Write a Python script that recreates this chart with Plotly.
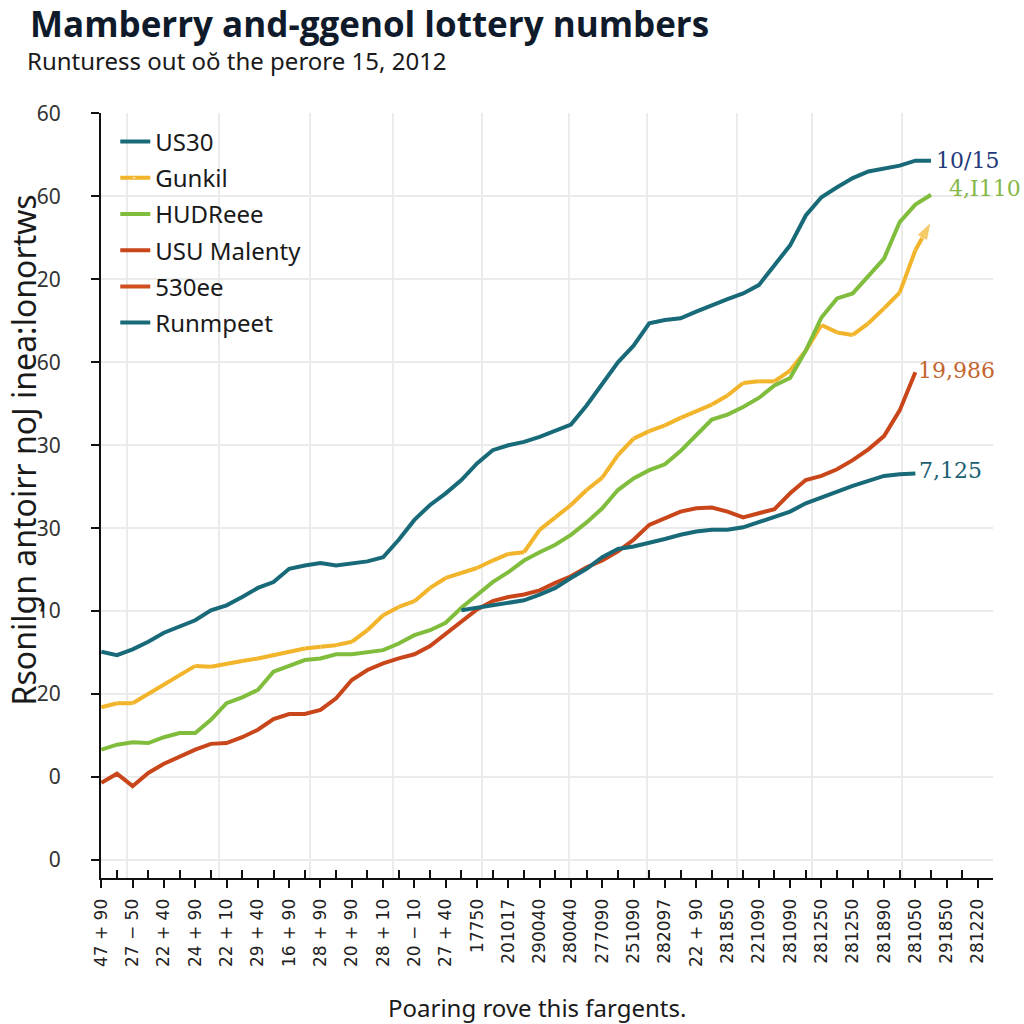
import plotly.graph_objects as go

# ---------------- data ----------------
x_tick_labels = ["47 + 90", "27 − 50", "22 + 40", "24 + 90", "22 + 10", "29 + 40", "16 + 90",
                 "28 + 90", "20 + 90", "28 + 10", "20 − 10", "27 + 40", "17750", "201017",
                 "290040", "280040", "277090", "251090", "282097", "22 + 90", "281850",
                 "221090", "281090", "281250", "281250", "281890", "281050", "291850", "281220"]
y_tick_labels = ["0", "0", "20", "10", "30", "30", "60", "20", "60", "60"]
y_tick_values = [0, 10, 20, 30, 40, 50, 60, 70, 80, 90]

step = 0.5  # period spacing of the series samples (in tick units)

us30 = [25.1, 24.7, 25.4, 26.3, 27.4, 28.1, 28.9, 30.1, 30.7, 31.7,
        32.8, 33.5, 35.1, 35.5, 35.8, 35.5, 35.8, 36.0, 36.5, 38.6,
        41.0, 42.8, 44.2, 45.8, 47.8, 49.4, 50.0, 50.4, 51.0, 51.8,
        52.5, 54.8, 57.5, 60.0, 62.0, 64.7, 65.1, 65.3, 66.1, 66.9,
        67.6, 68.3, 69.3, 71.7, 74.1, 77.7, 79.9, 81.1, 82.2, 83.0,
        83.3, 83.7, 84.3, 84.3]
gunkil = [18.4, 18.9, 18.9, 20.0, 21.1, 22.3, 23.4, 23.3, 23.7, 24.0,
          24.3, 24.7, 25.2, 25.5, 25.7, 25.9, 26.3, 27.7, 29.5, 30.5,
          31.2, 32.8, 34.0, 34.6, 35.2, 36.1, 36.9, 37.1, 39.8, 41.3,
          42.8, 44.6, 46.1, 48.8, 50.8, 51.7, 52.4, 53.3, 54.1, 54.9,
          56.0, 57.5, 57.7, 57.7, 59.0, 61.4, 64.5, 63.6, 63.3, 64.7,
          66.5, 68.4, 73.5, 76.9]
hudreee = [13.3, 13.9, 14.2, 14.1, 14.8, 15.3, 15.3, 16.9, 18.9, 19.6,
           20.5, 22.7, 23.4, 24.1, 24.3, 24.8, 24.8, 25.1, 25.3, 26.1,
           27.1, 27.7, 28.6, 30.4, 31.9, 33.5, 34.7, 36.1, 37.1, 38.0,
           39.2, 40.7, 42.4, 44.6, 46.0, 47.0, 47.7, 49.3, 51.2, 53.1,
           53.7, 54.6, 55.7, 57.2, 58.1, 61.4, 65.4, 67.7, 68.3, 70.4,
           72.5, 76.9, 79.0, 80.2]
usu_malenty = [9.3, 10.4, 8.9, 10.5, 11.6, 12.5, 13.3, 14.0, 14.1, 14.8,
               15.7, 17.0, 17.6, 17.6, 18.1, 19.5, 21.7, 22.9, 23.7, 24.3,
               24.8, 25.8, 27.3, 28.8, 30.2, 31.2, 31.7, 32.0, 32.5, 33.4,
               34.2, 35.3, 36.1, 37.2, 38.6, 40.4, 41.2, 42.0, 42.4, 42.5,
               42.0, 41.3, 41.8, 42.3, 44.2, 45.8, 46.3, 47.1, 48.2, 49.5,
               51.1, 54.2, 58.8]
runmpeet_first_period = 23
runmpeet = [30.1, 30.4, 30.6, 31.0, 31.3, 32.0, 32.8, 34.0, 35.1, 36.5,
            37.5, 37.8, 38.2, 38.7, 39.2, 39.6, 39.8, 39.8, 40.1, 40.7,
            41.4, 42.0, 43.0, 43.7, 44.5, 45.1, 45.7, 46.3, 46.5, 46.6]

end_labels = {"US30": "10/15", "HUDReee": "4,I110", "USU Malenty": "19,986", "Runmpeet": "7,125"}

# ---------------- style ----------------
TEAL = "#186a79"
YELLOW = "#f2b42a"
GREEN = "#80bd3d"
RED = "#c9461b"
RED2 = "#cf4f1f"

def xs(n, first=0):
    return [(first + i) * step for i in range(n)]

fig = go.Figure()

series = [
    ("US30", us30, 0, TEAL),
    ("Gunkil", gunkil, 0, YELLOW),
    ("HUDReee", hudreee, 0, GREEN),
    ("USU Malenty", usu_malenty, 0, RED),
    ("530ee", [], 0, RED2),
    ("Runmpeet", runmpeet, runmpeet_first_period, TEAL),
]

for name, vals, first, color in series:
    if vals:
        xv, yv = xs(len(vals), first), vals
    else:
        xv, yv = [None], [None]
    kw = {}
    mode = "lines"
    if name == "Gunkil":
        mode = "lines+markers"
        kw["marker"] = dict(symbol="arrow", angleref="previous",
                            size=[0] * (len(vals) - 1) + [19], color=color)
    fig.add_trace(go.Scatter(x=xv, y=yv, name=name, mode=mode,
                             line=dict(color=color, width=4),
                             legendgroup=name, **kw))

# hidden trace to carry the vertical-grid axis
fig.add_trace(go.Scatter(x=[None], y=[None], xaxis="x2", showlegend=False, hoverinfo="skip"))

label_style = {
    "US30": dict(color="#24397a", xshift=3, yshift=0),
    "HUDReee": dict(color="#86b84a", xshift=16, yshift=6),
    "USU Malenty": dict(color="#c4652e", xshift=1, yshift=2),
    "Runmpeet": dict(color="#1c5f73", xshift=2, yshift=3),
}
annotations = []
for name, vals, first, color in series:
    if name in end_labels:
        st = label_style[name]
        annotations.append(dict(
            x=xs(len(vals), first)[-1], y=vals[-1], xref="x", yref="y",
            text=end_labels[name], showarrow=False, xanchor="left", yanchor="middle",
            xshift=st["xshift"], yshift=st["yshift"],
            font=dict(family="DejaVu Serif", size=22, color=st["color"])))

# titles
annotations += [
    dict(text="<b>Mamberry and-ggenol lottery numbers</b>", xref="paper", yref="paper",
         x=-0.0818, y=1.1164, xanchor="left", yanchor="middle", showarrow=False,
         font=dict(family="Open Sans", size=35, color="#0f1a2a")),
    dict(text="Runturess out oŏ the perore 15, 2012", xref="paper", yref="paper",
         x=-0.0852, y=1.0680, xanchor="left", yanchor="middle", showarrow=False,
         font=dict(family="Noto Sans", size=24, color="#1a1a1a")),
    dict(text="Rsonilgn antoirr noJ inea:lonortws", xref="paper", yref="paper",
         x=-0.0874, y=0.559, xanchor="center", yanchor="middle", textangle=-90, showarrow=False,
         font=dict(family="Noto Sans", size=32, color="#1a1a1a")),
    dict(text="Poaring rove this fargents.", xref="paper", yref="paper",
         x=0.489, y=-0.169, xanchor="center", yanchor="middle", showarrow=False,
         font=dict(family="Noto Sans", size=24, color="#1a1a1a")),
]

x_range = [-0.01, 28.48]
grid_periods = [0.83, 3.77, 6.67, 9.32, 12.16, 14.94, 17.43, 20.31, 22.70, 25.57]

fig.update_layout(
    width=1024, height=1024,
    margin=dict(l=101, r=31, t=113, b=146),
    plot_bgcolor="white", paper_bgcolor="white",
    annotations=annotations,
    legend=dict(x=0.016, y=0.9915, xanchor="left", yanchor="top",
                font=dict(family="Noto Sans", size=24, color="#1a1a1a"),
                bgcolor="rgba(0,0,0,0)", traceorder="grouped", tracegroupgap=2,
                itemwidth=30),
    xaxis=dict(range=x_range, tickmode="array",
               tickvals=list(range(len(x_tick_labels))), ticktext=x_tick_labels,
               tickangle=-90, ticks="outside", ticklen=8, tickwidth=2, tickcolor="#111",
               showline=True, linecolor="#111", linewidth=2, showgrid=False, zeroline=False,
               tickfont=dict(family="DejaVu Sans", size=17, color="#222"),
               ticklabelstandoff=4,
               minor=dict(tickmode="linear", tick0=0.5, dtick=1, ticks="inside",
                          ticklen=8, tickwidth=2, tickcolor="#111", showgrid=False)),
    xaxis2=dict(range=x_range, overlaying="x", tickmode="array", tickvals=grid_periods,
                showticklabels=False, ticks="", showline=False, showgrid=True,
                gridcolor="#ebebeb", gridwidth=1.5, zeroline=False),
    yaxis=dict(range=[-2.17, 90.05], tickmode="array", tickvals=y_tick_values,
               ticktext=y_tick_labels, ticks="outside", ticklen=8, tickwidth=2,
               tickcolor="#111", showline=True, linecolor="#111", linewidth=2,
               showgrid=True, gridcolor="#ebebeb", gridwidth=1.5, zeroline=False,
               tickfont=dict(family="Noto Sans", size=21, color="#333"),
               ticklabelstandoff=26),
)

fig.write_html("out.html", config={"displayModeBar": False},
               post_script="document.body.style.margin='0';")
